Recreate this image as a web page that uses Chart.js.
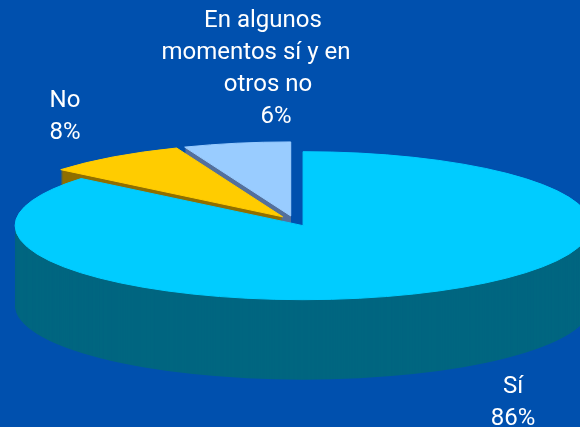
<!DOCTYPE html>
<html><head><meta charset="utf-8">
<style>html,body{margin:0;padding:0;background:#0050AE;overflow:hidden}#w{position:relative;width:580px;height:427px}</style>
<script src="https://cdn.jsdelivr.net/npm/chart.js@4"></script>
</head><body><div id="w"><canvas id="c" width="580" height="427"></canvas></div>
<script>
const categories = ["Sí", "No", "En algunos momentos sí y en otros no"];
const values = [86, 8, 6];
const topColors = ["#00CCFF", "#FFCC00", "#99CCFF"];
const wallColors = ["#006680", "#8F6F00", "#54709C"];
const labelLines = [["Sí", "86%"], ["No", "8%"], ["En algunos", "momentos sí y en", "otros no", "6%"]];

const RX = 288, RY = 74, DEPTH = 80, CX = 294.5, CY = 221, EXPLODE = 0.07;
// x centre and baseline of each label line
const labelPos = [[[513, 393], [513, 425]], [[65, 107], [65, 139]], [[263, 27], [256, 59], [268, 91], [276, 123]]];
const paintOrder = [2, 1, 0];

const pie3d = {
  id: "pie3d",
  beforeDatasetDraw() { return false; },
  beforeDatasetsDraw(chart) {
    const ctx = chart.ctx, arcs = chart.getDatasetMeta(0).data;
    const face = (a, dy, color, outline) => {
      const R = a.outerRadius, off = EXPLODE * R;
      const mid = (a.startAngle + a.endAngle) / 2;
      const x = a.x + Math.cos(mid) * off, y = a.y + Math.sin(mid) * off;
      ctx.save();
      ctx.save();
      ctx.translate(CX, CY + dy);
      ctx.scale(RX / R, RY / R);
      ctx.translate(-a.x, -a.y);
      ctx.beginPath();
      ctx.moveTo(x, y);
      ctx.arc(x, y, R, a.startAngle, a.endAngle);
      ctx.closePath();
      ctx.restore();
      ctx.fillStyle = color;
      ctx.fill();
      if (outline) {
        ctx.strokeStyle = color;
        ctx.lineWidth = 1;
        ctx.stroke();
      }
      ctx.restore();
    };
    paintOrder.forEach(i => {
      for (let d = DEPTH; d > 0; d--) face(arcs[i], d, wallColors[i], false);
      face(arcs[i], 0, arcs[i].options.backgroundColor, true);
    });
  },
  afterDraw(chart) {
    const ctx = chart.ctx;
    ctx.save();
    ctx.fillStyle = "#FFFFFF";
    ctx.font = '24px Roboto,"Noto Sans",sans-serif';
    ctx.textAlign = "center";
    ctx.textBaseline = "alphabetic";
    labelLines.forEach((lines, i) => {
      lines.forEach((t, k) => ctx.fillText(t, labelPos[i][k][0], labelPos[i][k][1]));
    });
    ctx.restore();
  }
};

new Chart(document.getElementById("c"), {
  type: "pie",
  data: { labels: categories, datasets: [{ data: values, backgroundColor: topColors, borderWidth: 0 }] },
  options: {
    responsive: false, animation: false,
    layout: { padding: 0 },
    plugins: { legend: { display: false }, tooltip: { enabled: false } }
  },
  plugins: [pie3d]
});
</script></body></html>
